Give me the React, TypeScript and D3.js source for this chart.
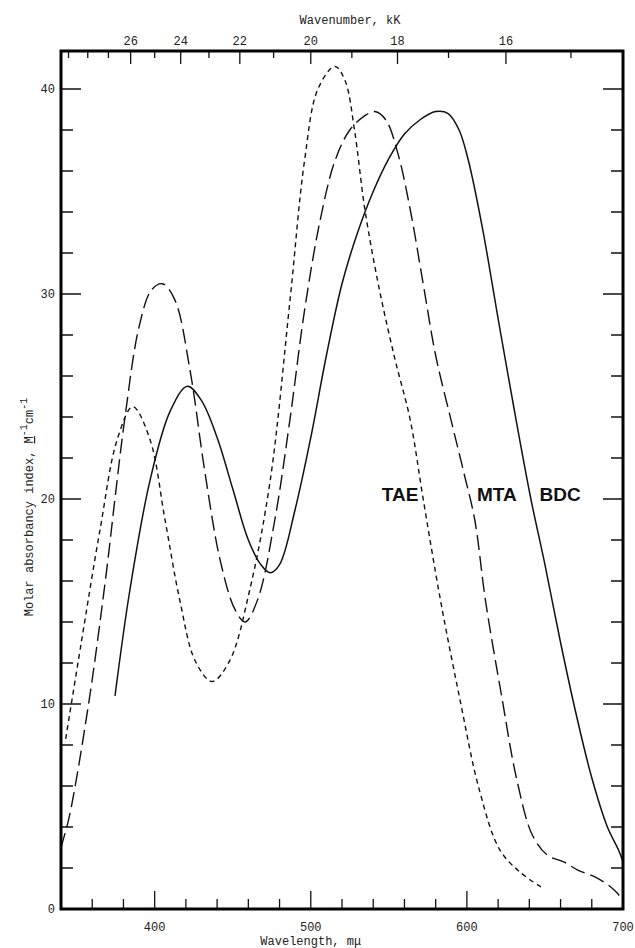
import React from 'react';
import * as d3 from 'd3';

// wavelength (mμ) and molar absorbancy index
const TAE_WL = [343, 353, 365, 376, 386, 397, 406.6, 416, 426, 436.7, 448, 461, 474, 486.7, 496, 504.6, 515.5, 522, 528, 534.7, 544, 554, 563.6, 572, 583, 595.6, 608, 621, 634, 649];
const TAE_ABS = [8.3, 13.0, 18.5, 22.9, 24.5, 22.9, 19.0, 15.1, 12.1, 11.1, 12.1, 15.6, 20.9, 29.7, 36.5, 40.0, 41.1, 40.4, 38.0, 34.1, 30.2, 26.8, 23.9, 20.0, 15.1, 10.2, 5.8, 2.9, 1.8, 1.0];

const MTA_WL = [340, 345, 350, 355, 360, 365, 370, 375, 381, 390, 398, 405, 413, 422.6, 432, 442, 451.5, 458, 466, 477, 486.7, 496, 506, 515.5, 525, 534.7, 541, 548, 556, 564, 572, 580, 590, 598, 605, 612, 622, 632, 642, 652, 662, 671, 681, 690, 696, 700];
const MTA_ABS = [3.0, 4.4, 6.4, 8.7, 11.2, 14.0, 17.0, 20.3, 24.0, 28.4, 30.2, 30.5, 29.7, 26.3, 21.4, 17.0, 14.6, 14.0, 15.1, 19.0, 23.9, 29.2, 33.6, 36.5, 38.0, 38.7, 38.9, 38.5, 36.8, 34.0, 30.5, 27.0, 23.8, 21.3, 19.0, 15.0, 10.5, 6.3, 3.6, 2.6, 2.3, 1.9, 1.6, 1.2, 0.8, 0.4];

const BDC_WL = [374.6, 384, 397, 410, 421, 430, 440, 450, 460, 468, 474, 480, 490, 500, 510, 520, 530, 540, 550, 560, 570, 580, 588, 595, 601, 610, 620, 630, 641, 650, 660, 670, 680, 690, 697, 700];
const BDC_ABS = [10.4, 15.5, 20.9, 24.3, 25.5, 24.8, 23.0, 20.5, 18.0, 16.8, 16.4, 16.8, 19.5, 23.0, 27.0, 30.5, 33.0, 35.0, 36.6, 37.8, 38.5, 38.9, 38.8, 38.0, 36.5, 33.2, 28.8, 24.5, 20.0, 16.8, 13.0, 9.5, 6.4, 4.0, 2.9, 2.3];

const WL_TICKS = d3.range(340, 701, 20);
const WL_LABELS = [400, 500, 600, 700];
const ABS_TICKS = d3.range(0, 42, 2);
const ABS_LABELS = [0, 10, 20, 30, 40];
const KK_TICKS = d3.range(15, 30, 1);
const KK_LABELS = [16, 18, 20, 22, 24, 26];

const SERIES = [
  { name: 'TAE', wl: TAE_WL, abs: TAE_ABS, dash: '5,4', labelWl: 545.5 },
  { name: 'MTA', wl: MTA_WL, abs: MTA_ABS, dash: '15,6', labelWl: 606.5 },
  { name: 'BDC', wl: BDC_WL, abs: BDC_ABS, dash: null, labelWl: 646.5 },
];

const mono = '"Liberation Mono", "DejaVu Sans Mono", monospace';

export default function App() {
  const width = 635;
  const height = 948;
  const left = 61, right = 623, top = 51, bottom = 909;

  const x = d3.scaleLinear().domain([340, 700]).range([left, right]);
  const y = d3.scaleLinear().domain([0, (bottom - top) / 20.5]).range([bottom, top]);

  const line = d3.line<[number, number]>()
    .x(d => x(d[0]))
    .y(d => y(d[1]))
    .curve(d3.curveCatmullRom.alpha(0.5));

  return (
    <svg width={width} height={height} style={{ position: 'absolute', left: 0, top: 0, background: '#fff' }}>
      {/* curves */}
      {SERIES.map(s => (
        <path
          key={s.name}
          d={line(s.wl.map((w, i) => [w, s.abs[i]] as [number, number])) || ''}
          fill="none"
          stroke="#111"
          strokeWidth={s.dash ? 1.4 : 1.5}
          strokeDasharray={s.dash || undefined}
        />
      ))}

      {/* series labels */}
      {SERIES.map(s => (
        <text key={s.name + 'l'} x={x(s.labelWl)} y={y(20) + 2}
          fontFamily='"Liberation Sans", Arial, sans-serif' fontWeight="bold" fontSize={19} fill="#111">
          {s.name}
        </text>
      ))}

      {/* bottom ticks */}
      {WL_TICKS.map(t => {
        const major = t % 100 === 0;
        return <line key={'b' + t} x1={x(t)} x2={x(t)} y1={bottom} y2={bottom - (major ? 18 : 10)} stroke="#111" strokeWidth={1.3} />;
      })}
      {WL_LABELS.map(t => (
        <text key={'bl' + t} x={x(t)} y={931} textAnchor="middle" fontFamily={mono} fontSize={12} fill="#222">{t}</text>
      ))}

      {/* left & right ticks */}
      {ABS_TICKS.map(t => {
        const major = t % 10 === 0;
        const len = major ? 20 : 12;
        return (
          <g key={'l' + t}>
            <line x1={left} x2={left + len} y1={y(t)} y2={y(t)} stroke="#111" strokeWidth={1.5} />
            <line x1={right} x2={right - len} y1={y(t)} y2={y(t)} stroke="#111" strokeWidth={1.5} />
          </g>
        );
      })}
      {ABS_LABELS.map(t => (
        <text key={'ll' + t} x={55} y={y(t) + 4} textAnchor="end" fontFamily={mono} fontSize={12} fill="#222">{t}</text>
      ))}

      {/* top wavenumber ticks (kK = 10^4 / nm) */}
      {KK_TICKS.map(k => {
        const major = KK_LABELS.includes(k);
        const xp = x(1e4 / k);
        return <line key={'t' + k} x1={xp} x2={xp} y1={top} y2={top + (major ? 13 : 7)} stroke="#111" strokeWidth={1.3} />;
      })}
      {KK_LABELS.map(k => (
        <text key={'tl' + k} x={x(1e4 / k)} y={45} textAnchor="middle" fontFamily={mono} fontSize={12} fill="#222">{k}</text>
      ))}

      {/* frame */}
      <rect x={left} y={top} width={right - left} height={bottom - top} fill="none" stroke="#000" strokeWidth={3} />

      {/* axis titles */}
      <text x={350} y={24} textAnchor="middle" fontFamily={mono} fontSize={12} fill="#222">Wavenumber, kK</text>
      <text x={x(500)} y={945} textAnchor="middle" fontFamily={mono} fontSize={12} fill="#222">Wavelength, mμ</text>
      <text transform={`translate(33,${y(20) + 8}) rotate(-90)`} textAnchor="middle" fontFamily={mono} fontSize={12} fill="#222">
        Molar absorbancy index, <tspan textDecoration="underline">M</tspan>
        <tspan dy={-6} fontSize={10}>-1</tspan>
        <tspan dy={6}>cm</tspan>
        <tspan dy={-6} fontSize={10}>-1</tspan>
      </text>
    </svg>
  );
}
